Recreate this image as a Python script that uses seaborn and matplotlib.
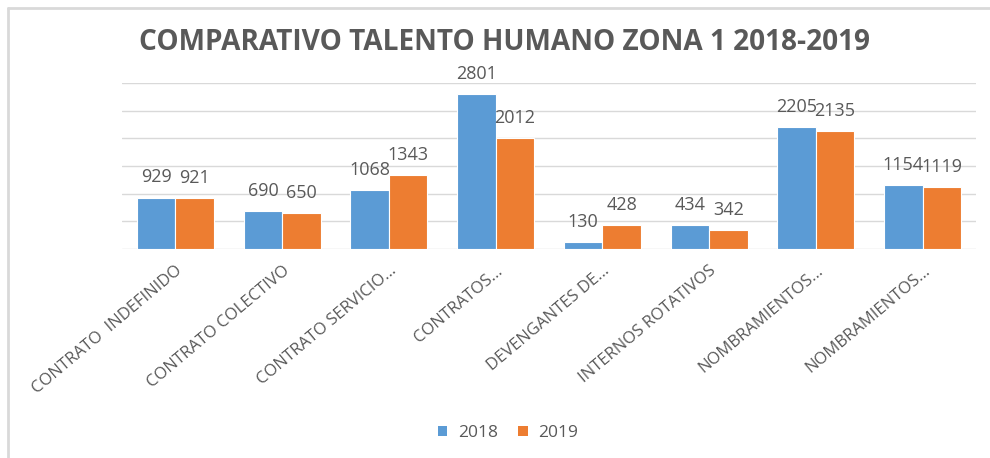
import matplotlib
matplotlib.use("Agg")
import matplotlib.pyplot as plt
import seaborn as sns
import pandas as pd
from matplotlib.patches import Patch
from matplotlib.lines import Line2D

categories = ["CONTRATO  INDEFINIDO", "CONTRATO COLECTIVO", "CONTRATO SERVICIO…",
              "CONTRATOS…", "DEVENGANTES DE…", "INTERNOS ROTATIVOS",
              "NOMBRAMIENTOS…", "NOMBRAMIENTOS…"]
cat_keys = [f"c{i}" for i in range(len(categories))]
values_2018 = [929, 690, 1068, 2801, 130, 434, 2205, 1154]
values_2019 = [921, 650, 1343, 2012, 428, 342, 2135, 1119]
series = ["2018", "2019"]
colors = ["#5B9BD5", "#ED7D31"]
title = "COMPARATIVO TALENTO HUMANO ZONA 1 2018-2019"

df = pd.DataFrame({
    "cat": cat_keys * 2,
    "value": values_2018 + values_2019,
    "year": ["2018"] * len(cat_keys) + ["2019"] * len(cat_keys),
})

sns.set_theme(style="white")
plt.rcParams["font.family"] = ["Open Sans", "DejaVu Sans"]

fig = plt.figure(figsize=(9.9, 4.58), dpi=100)
ax = fig.add_axes([122/990, 1 - 249/458, 854/990, (249 - 83)/458])

sns.barplot(data=df, x="cat", y="value", hue="year", order=cat_keys,
            hue_order=series, palette=colors, width=0.72, ax=ax,
            edgecolor="white", linewidth=0.8, legend=False, errorbar=None,
            saturation=1)

ax.set_ylim(0, 3000)
ax.set_yticks(range(0, 3001, 500))
ax.set_yticklabels([])
ax.yaxis.grid(True, color="#D9D9D9", linewidth=1)
ax.set_axisbelow(True)
for s in ax.spines.values():
    s.set_visible(False)
ax.tick_params(axis="both", length=0)
ax.set_xlabel("")
ax.set_ylabel("")
ax.set_xlim(-0.5, len(categories) - 0.5)

ax.set_xticks(range(len(categories)))
ax.set_xticklabels(categories, rotation=40, ha="right", rotation_mode="anchor",
                   fontsize=12, color="#595959")
ax.tick_params(axis="x", pad=10)

for cont in ax.containers:
    ax.bar_label(cont, fmt="%d", padding=8, fontsize=13, color="#595959")

fig.text(505/990, 1 - 43/458, title, ha="center", va="center",
         fontsize=20.2, fontweight="bold", color="#595959")

handles = [Patch(facecolor=c, edgecolor="none") for c in colors]
fig.legend(handles, series, loc="center", bbox_to_anchor=(508/990, 1 - 433/458),
           ncol=2, frameon=False, fontsize=12.5, labelcolor="#595959",
           handlelength=0.55, handleheight=0.55, handletextpad=0.6, columnspacing=1.2)

# chart frame lines (top and left)
fig.add_artist(Line2D([8/990, 1], [1 - 8/458, 1 - 8/458], color="#D9D9D9", linewidth=2,
                      transform=fig.transFigure))
fig.add_artist(Line2D([8/990, 8/990], [0, 1 - 8/458], color="#D9D9D9", linewidth=2,
                      transform=fig.transFigure))

fig.savefig("out.png", dpi=100)
